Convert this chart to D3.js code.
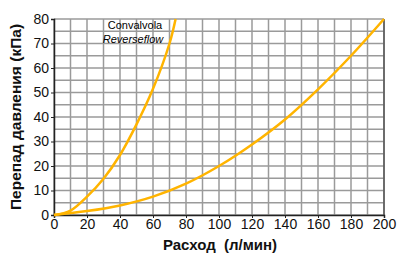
<!DOCTYPE html>
<html>
<head>
<meta charset="utf-8">
<script src="https://cdn.jsdelivr.net/npm/d3@7"></script>
<style>
  body { margin: 0; background: #fff; }
  text { font-family: "Liberation Sans", Arial, sans-serif; }
</style>
</head>
<body>
<div id="chart"></div>
<script>
// flow (l/min) vs pressure drop (kPa)
const convFlow = [0, 10, 20, 30, 40, 50, 60, 70, 73.7]
const convDp = [0, 1.8, 7.5, 14.8, 24.5, 37, 51.5, 70, 80]
const revFlow = [0, 20, 40, 60, 80, 100, 120, 140, 160, 180, 200]
const revDp = [0, 1.6, 3.9, 7.5, 12.8, 20, 28.8, 39, 51.3, 65, 80]
const xTicks = [0, 20, 40, 60, 80, 100, 120, 140, 160, 180, 200]
const yTicks = [0, 10, 20, 30, 40, 50, 60, 70, 80]

const width = 398
const height = 255
const margin = {top: 19, right: 14, bottom: 40, left: 54}

const svg = d3.select("#chart").append("svg")
    .attr("width", width)
    .attr("height", height)

const x = d3.scaleLinear().domain([0, 200]).range([margin.left, width - margin.right])
const y = d3.scaleLinear().domain([0, 80]).range([height - margin.bottom, margin.top])

// grid
const grid = svg.append("g")
grid.selectAll(".vg")
    .data(d3.range(0, 201, 10))
    .join("line")
    .attr("x1", d => x(d)).attr("x2", d => x(d))
    .attr("y1", y(0)).attr("y2", y(80))
    .attr("stroke", "#9a9a9a").attr("stroke-width", 1.5)
grid.selectAll(".hg")
    .data(d3.range(0, 81, 5))
    .join("line")
    .attr("x1", x(0)).attr("x2", x(200))
    .attr("y1", d => y(d)).attr("y2", d => y(d))
    .attr("stroke", "#9a9a9a").attr("stroke-width", 1.5)

// right border
svg.append("line")
    .attr("x1", x(200)).attr("x2", x(200))
    .attr("y1", y(0)).attr("y2", y(80))
    .attr("stroke", "#555").attr("stroke-width", 1.5)

// axes
const xAxis = svg.append("g")
    .attr("transform", `translate(0,${y(0)})`)
    .call(d3.axisBottom(x).tickValues(xTicks).tickSize(3).tickPadding(1))
const yAxis = svg.append("g")
    .attr("transform", `translate(${x(0)},0)`)
    .call(d3.axisLeft(y).tickValues(yTicks).tickSize(3).tickPadding(2))

;[xAxis, yAxis].forEach(a => {
  a.select(".domain").attr("stroke", "#222").attr("stroke-width", 1.5)
  a.selectAll(".tick line").attr("stroke", "#222")
  a.selectAll(".tick text")
      .attr("font-size", 14)
      .attr("fill", "#111")
      .style("font-family", "'Liberation Sans', Arial, sans-serif")
})

// curves
const line = d3.line().curve(d3.curveCatmullRom)
svg.append("path")
    .attr("d", line(convFlow.map((f, i) => [x(f), y(convDp[i])])))
    .attr("fill", "none").attr("stroke", "#ffb400").attr("stroke-width", 2.5)
svg.append("path")
    .attr("d", line(revFlow.map((f, i) => [x(f), y(revDp[i])])))
    .attr("fill", "none").attr("stroke", "#ffb400").attr("stroke-width", 2.5)

// labels
svg.append("text")
    .attr("x", 135).attr("y", 29)
    .attr("text-anchor", "middle")
    .attr("font-size", 11)
    .text("Convalvola")
svg.append("text")
    .attr("x", 133).attr("y", 43)
    .attr("text-anchor", "middle")
    .attr("font-size", 11)
    .attr("font-style", "italic")
    .text("Reverseflow")

svg.append("text")
    .attr("x", 220).attr("y", 250)
    .attr("text-anchor", "middle")
    .attr("font-size", 15)
    .attr("font-weight", "bold")
    .attr("fill", "#111")
    .style("white-space", "pre")
    .text("Расход  (л/мин)")

svg.append("text")
    .attr("transform", `translate(21,${(y(0) + y(80)) / 2}) rotate(-90)`)
    .attr("text-anchor", "middle")
    .attr("font-size", 15.5)
    .attr("font-weight", "bold")
    .attr("fill", "#111")
    .text("Перепад давления (кПа)")
</script>
</body>
</html>
